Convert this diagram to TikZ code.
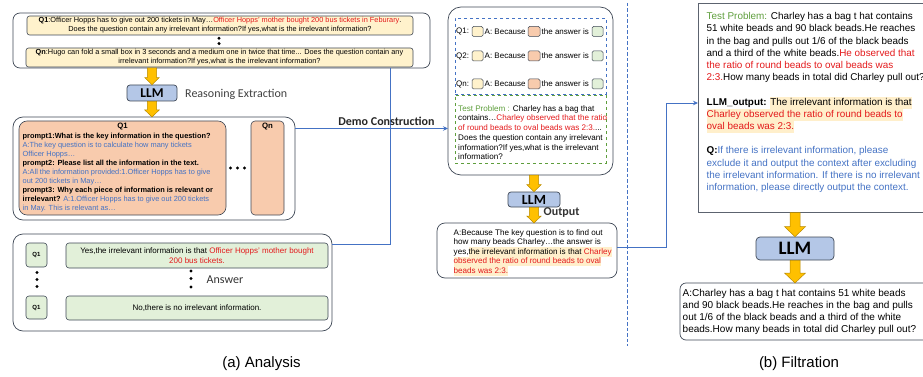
\documentclass[tikz,border=0pt]{standalone}
\usepackage{fontspec}
\setmainfont{Liberation Sans}
\newfontfamily\calfont{Carlito}
\usetikzlibrary{calc,arrows.meta}
\definecolor{bordc}{HTML}{3F4856}
\definecolor{yfill}{HTML}{FFF2CC}
\definecolor{ofill}{HTML}{F8CBAD}
\definecolor{gfill}{HTML}{E2F0D9}
\definecolor{lfill}{HTML}{B4C7E7}
\definecolor{lblue}{HTML}{4472C4}
\definecolor{tred}{HTML}{E3191B}
\definecolor{tblue}{HTML}{4472C4}
\definecolor{tgreen}{HTML}{5E9E3C}
\definecolor{hlc}{HTML}{FFEFCB}
\definecolor{afill}{HTML}{FFC000}
\definecolor{abord}{HTML}{B88A00}
\newcommand\rt[1]{\textcolor{tred}{#1}}
\newcommand\bt[1]{\textcolor{tblue}{#1}}
\newcommand\gt[1]{\textcolor{tgreen}{#1}}
\newcommand\hlt[1]{{\setlength{\fboxsep}{0pt}\colorbox{hlc}{\strut #1}}}
\newcommand\fs[2]{\fontsize{#1}{#2}\selectfont}
\newcommand\blk[5]{%
\filldraw[fill=afill, draw=abord, line width=0.5pt] let \p1=#1, \p2=#2 in
 (\x1-#3,\y1) -- (\x1+#3,\y1) -- (\x1+#3,\y2+#5) -- (\x1+#4,\y2+#5) -- (\x1,\y2)
 -- (\x1-#4,\y2+#5) -- (\x1-#3,\y2+#5) -- cycle;}
\tikzset{
 outerbox/.style={draw=bordc, line width=0.7pt, inner sep=0pt, outer sep=0pt},
 ybox/.style={draw=bordc, line width=0.6pt, fill=yfill, rounded corners=2.5pt, inner sep=0pt, align=center},
 obox/.style={draw=bordc, line width=0.6pt, fill=ofill, inner sep=0pt},
 gbox/.style={draw=bordc, line width=0.6pt, fill=gfill, rounded corners=3pt, inner sep=0pt, align=center},
 llmbox/.style={draw=bordc, line width=0.7pt, fill=lfill, rounded corners=3pt, inner sep=0pt},
 dotn/.style={circle, fill=black, inner sep=0pt, minimum size=3.3pt},
 txt/.style={inner sep=0pt, align=left, anchor=north west},
 bline/.style={draw=lblue, line width=0.8pt},
 sq/.style={draw=bordc, line width=0.5pt, rounded corners=1.5pt, inner sep=0pt, minimum width=11pt, minimum height=10pt},
 rowtxt/.style={inner sep=0pt, anchor=west, font=\fs{8}{9}},
}
\begin{document}
\begin{tikzpicture}[x=1pt,y=-1pt]
\useasboundingbox (0,0) rectangle (923,377);
\clip (0,0) rectangle (923,377);
% ---------- top question box
\node[outerbox, rounded corners=7pt, minimum width=417pt, minimum height=55pt] (topbox) at (221.5,40.5) {};
\node[ybox, minimum width=386pt, minimum height=19pt, font=\fs{7.35}{9}] (q1box) at (220,25.5)
 {\textbf{Q1}:Officer Hopps has to give out 200 tickets in May…\rt{Officer Hopps' mother bought 200 bus tickets in Feburary}.\\
 Does the question contain any irrelevant information?If yes,what is the irrelevant information?};
\node[dotn] (td1) at (219,38.3) {};
\node[dotn] (td2) at (219,43.6) {};
\node[ybox, minimum width=387pt, minimum height=19pt, font=\fs{7.35}{9}] (qnbox) at (219.5,57.5)
 {\textbf{Qn}:Hugo can fold a small box in 3 seconds and a medium one in twice that time... Does the question contain any\\
 irrelevant information?If yes,what is the irrelevant information?};
% ---------- LLM 1
\node[llmbox, minimum width=50pt, minimum height=16pt, font=\calfont\bfseries\fs{13.5}{13.5}] (llm1) at (152,93) {LLM};
\node[inner sep=0pt, anchor=west, text=black!75, font=\calfont\fs{12}{12}] (reasx) at (185,94) {Reasoning Extraction};
\blk{(llm1.north |- topbox.south)}{(llm1.north)}{4.6pt}{7.2pt}{7pt}
% ---------- middle box
\node[outerbox, rounded corners=10pt, minimum width=282pt, minimum height=103pt] (midbox) at (154,168.5) {};
\blk{(llm1.south)}{(llm1.south |- midbox.north)}{4.6pt}{7.2pt}{7pt}
\node[obox, rounded corners=8pt, minimum width=207pt, minimum height=94pt] (q1o) at (122.5,168) {};
\node[inner sep=0pt, font=\bfseries\fs{7.8}{8}] (q1olab) at (122.5,127) {Q1};
\node[txt, font=\fs{7.4}{9}] (q1otxt) at (22.5,133.2)
 {\textbf{prompt1:What is the key information in the question?}\\
 \bt{A:The key question is to calculate how many tickets}\\
 \bt{Officer Hopps…}\\
 \textbf{prompt2: Please list all the information in the text.}\\
 \bt{A:All the information provided:1.Officer Hopps has to give}\\
 \bt{out 200 tickets in May…}\\
 \textbf{prompt3: Why each piece of information is relevant or}\\
 \textbf{irrelevant?} \bt{A:1.Officer Hopps has to give out 200 tickets}\\
 \bt{in May. This is relevant as…}};
\node[obox, rounded corners=4pt, minimum width=33pt, minimum height=94pt] (qno) at (267.5,168) {};
\node[inner sep=0pt, font=\bfseries\fs{7.8}{8}] (qnolab) at (267.5,127) {Qn};
\node[dotn] (md1) at (230.5,168) {};
\node[dotn] (md2) at (237.5,168) {};
\node[dotn] (md3) at (244.5,168) {};
% ---------- bottom answers box
\node[outerbox, rounded corners=10pt, minimum width=319pt, minimum height=97pt] (botbox) at (172.5,282.5) {};
\node[gbox, minimum width=21pt, minimum height=24pt, font=\bfseries\fs{6}{7}] (qa1) at (36.5,255) {Q1};
\node[gbox, minimum width=262pt, minimum height=25pt, font=\fs{8}{9.7}] (ans1) at (197,255.5)
 {Yes,the irrelevant information is that \rt{Officer Hopps' mother bought}\\ \rt{200 bus tickets.}};
\node[gbox, minimum width=21pt, minimum height=23pt, font=\bfseries\fs{6}{7}] (qa2) at (36.5,307.5) {Q1};
\node[gbox, minimum width=262pt, minimum height=24pt, font=\fs{8}{9.7}] (ans2) at (197,308)
 {No,there is no irrelevant information.};
\node[dotn] (ld1) at (37,272.5) {};
\node[dotn] (ld2) at (37,279.5) {};
\node[dotn] (ld3) at (37,286.5) {};
\node[dotn] (cd1) at (191,271) {};
\node[dotn] (cd2) at (191,278.5) {};
\node[dotn] (cd3) at (191,287) {};
\node[inner sep=0pt, anchor=west, text=black!80, font=\calfont\fs{12}{12}] (anslab) at (206.5,280) {Answer};
% ---------- demo construction connectors
\coordinate (jx) at (390,0);
\draw[bline] (topbox.south -| jx) -- (jx |- 0,244) -- (botbox.east |- 0,244);
\node[inner sep=0pt, text=black!85, font=\calfont\bfseries\fs{12}{12}] (dclab) at (386.5,121) {Demo Construction};
% ---------- demo box
\node[outerbox, rounded corners=13pt, minimum width=165pt, minimum height=168pt] (demo) at (530.5,91) {};
\draw[bline, -{Stealth[length=5pt,width=4.5pt]}] (midbox.east |- 0,128.5) -- (demo.west |- 0,128.5);
\node[draw=lblue, dashed, line width=0.7pt, inner sep=0pt, minimum width=151pt, minimum height=76pt] (bdash) at (530.5,56) {};
\node[draw=tgreen, dashed, line width=0.7pt, inner sep=0pt, minimum width=151pt, minimum height=68pt] (gdash) at (530.5,129) {};
\foreach \qq/\yy in {Q1/31.5, Q2/56, Qn/84}{
 \node[rowtxt] (lab\qq) at (456,\yy) {\qq:};
 \node[sq, fill=yfill] (sy\qq) at (477.5,\yy) {};
 \node[rowtxt] (bec\qq) at (484.5,\yy) {A: Because};
 \node[sq, fill=ofill, minimum width=12pt] (so\qq) at (534,\yy) {};
 \node[rowtxt] (tai\qq) at (541.5,\yy) {the answer is};
 \node[sq, fill=gfill] (sg\qq) at (597.5,\yy) {};
}
\node[txt, font=\fs{8.1}{9.75}] (tptxt) at (458,105)
 {\gt{Test Problem :} Charley has a bag that\\
 contains…\rt{Charley observed that the ratio}\\
 \rt{of round beads to oval beads was 2:3.}...\\
 Does the question contain any irrelevant\\
 information?If yes,what is the irrelevant\\
 information?};
% ---------- LLM 2 and output
\node[llmbox, minimum width=52pt, minimum height=15pt, font=\calfont\bfseries\fs{14}{14}] (llm2) at (534,199.5) {LLM};
\blk{(llm2.north |- demo.south)}{(llm2.north)}{4.6pt}{7.2pt}{7pt}
\node[outerbox, rounded corners=8pt, minimum width=180pt, minimum height=55pt] (outbox) at (527,250.5) {};
\blk{(llm2.south)}{(llm2.south |- outbox.north)}{4.6pt}{7.2pt}{7pt}
\node[inner sep=0pt, anchor=west, text=black!80, font=\calfont\bfseries\fs{12}{12}] (outlab) at (543.5,213) {Output};
\node[txt, font=\fs{8.1}{9.5}] (outtxt) at (453.5,229)
 {A:Because The key question is to find out\\
 how many beads Charley…the answer is\\
 yes,\hlt{the irrelevant information is that \rt{Charley}}\\
 \hlt{\rt{observed the ratio of round beads to oval}}\\
 \hlt{\rt{beads was 2:3.}}};
% ---------- divider
\coordinate (dvt) at (627,3);
\coordinate (dvb) at (627,346);
\draw[lblue, line width=0.8pt, dash pattern=on 3.5pt off 2pt] (dvt) -- (dvb);
% ---------- filtration
\node[draw=bordc!85, line width=0.6pt, inner sep=0pt, minimum width=240pt, minimum height=209pt, anchor=north west] (filt) at (698,3) {};
\coordinate (jy) at (666,0);
\draw[bline, -{Stealth[length=5pt,width=4.5pt]}] (outbox.east |- 0,247) -- (jy |- 0,247) -- (jy |- 0,103) -- (filt.west |- 0,103);
\node[txt, font=\fs{9.9}{12.2}] (filttxt) at (706.5,12.3)
 {\gt{Test Problem:} Charley has a bag t hat contains\\
 51 white beads and 90 black beads.He reaches\\
 in the bag and pulls out 1/6 of the black beads\\
 and a third of the white beads.\rt{He observed that}\\
 \rt{the ratio of round beads to oval beads was}\\
 \rt{2:3.}How many beads in total did Charley pull out?\\
 \mbox{}\\
 \textbf{LLM\_output:} \hlt{The irrelevant information is that}\\
 \hlt{\rt{Charley observed the ratio of round beads to}}\\
 \hlt{\rt{oval beads was 2:3.}}\\
 \mbox{}\\
 \textbf{Q:}\bt{If there is irrelevant information, please}\\
 \bt{exclude it and output the context after excluding}\\
 \bt{the irrelevant information. If there is no irrelevant}\\
 \bt{information, please directly output the context.}};
\node[llmbox, rounded corners=4pt, minimum width=78pt, minimum height=23pt, font=\calfont\bfseries\fs{19}{19}] (llm3) at (795,248.5) {LLM};
\blk{(llm3.north |- filt.south)}{(llm3.north)}{5pt}{10.5pt}{10pt}
\node[outerbox, rounded corners=6pt, minimum width=260pt, minimum height=57pt, anchor=north west] (fans) at (680,283) {};
\blk{(llm3.south)}{(llm3.south |- fans.north)}{5pt}{10.5pt}{10pt}
\node[txt, font=\fs{10}{12}] (fanstxt) at (682.5,289.3)
 {A:Charley has a bag t hat contains 51 white beads\\
 and 90 black beads.He reaches in the bag and pulls\\
 out 1/6 of the black beads and a third of the white\\
 beads.How many beads in total did Charley pull out?};
% ---------- captions
\node[inner sep=0pt, font=\fs{15}{15}] (capa) at (261.5,364) {(a) Analysis};
\node[inner sep=0pt, font=\fs{15}{15}] (capb) at (799,364) {(b) Filtration};
\end{tikzpicture}
\end{document}
